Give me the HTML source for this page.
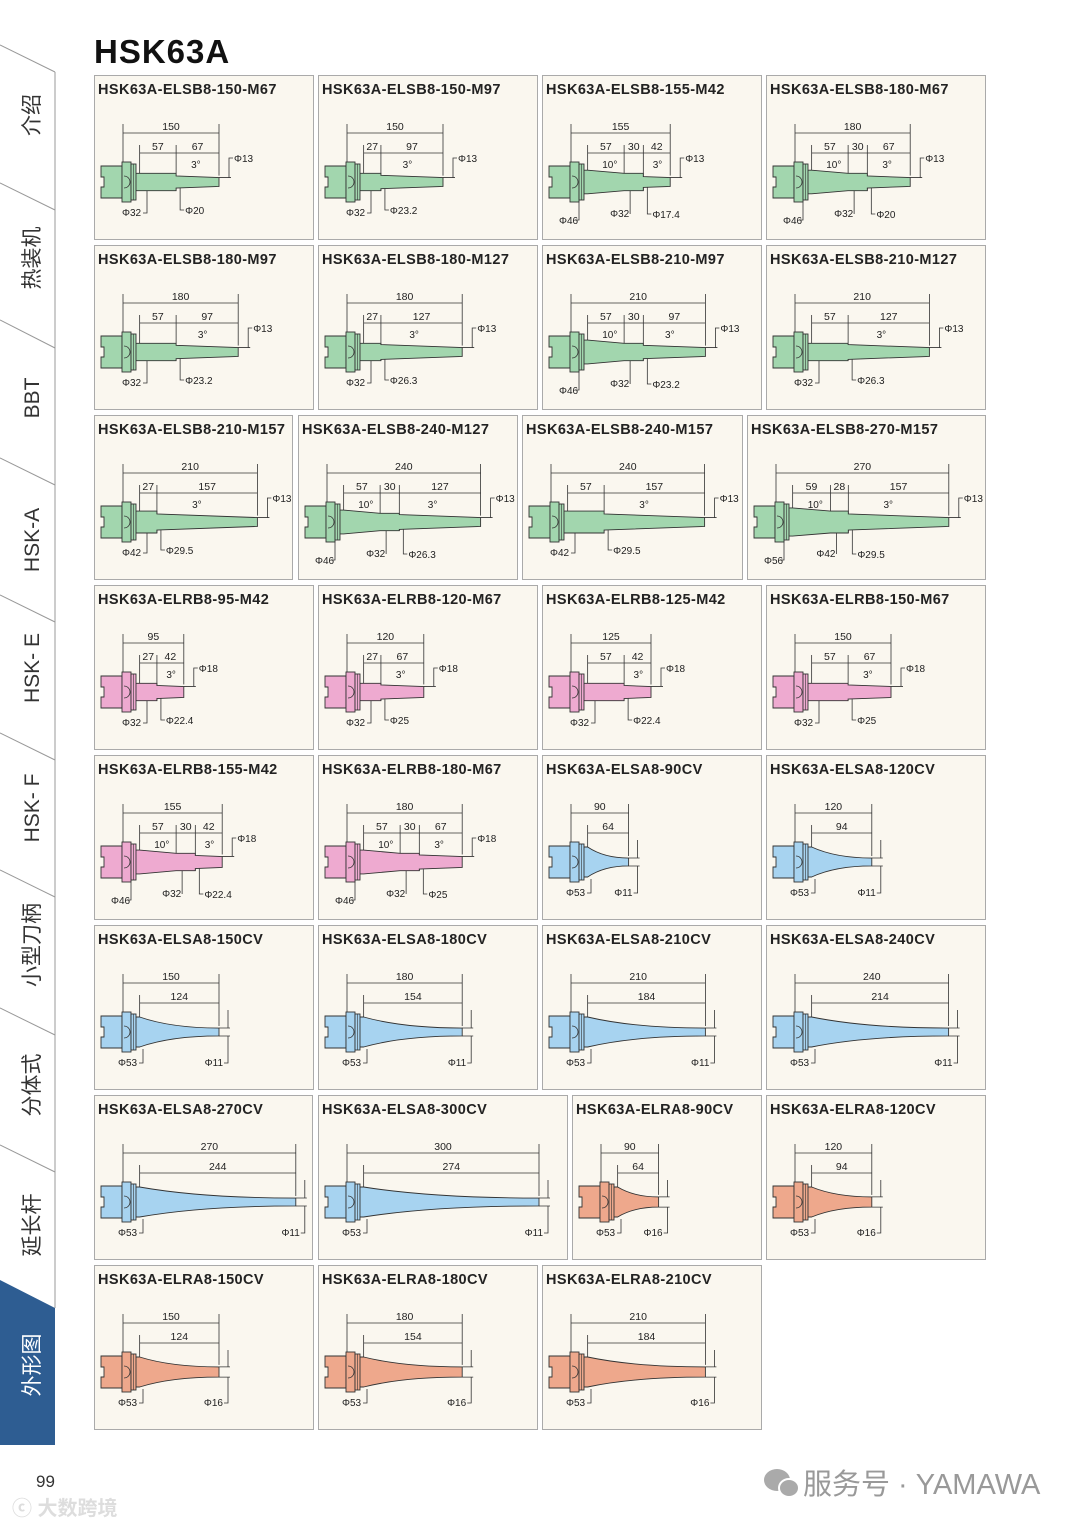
<!DOCTYPE html>
<html><head><meta charset="utf-8">
<style>
html,body{margin:0;padding:0;background:#fff;}
body{width:1080px;height:1527px;position:relative;overflow:hidden;font-family:"Liberation Sans","Noto Sans CJK SC",sans-serif;}
svg{position:absolute;left:0;top:0;}
</style></head>
<body>
<svg id="pg" width="1080" height="1527" viewBox="0 0 1080 1527" xmlns="http://www.w3.org/2000/svg">
  <g id="sidebar" stroke="#999" stroke-width="1" fill="none">
    <polygon points="0,1280 55,1308 55,1445 0,1445" fill="#2e5d92" stroke="none"/>
    <line x1="55" y1="72" x2="55" y2="1308"/>
    <line x1="0" y1="45" x2="55" y2="72"/><line x1="0" y1="183" x2="55" y2="210"/>
    <line x1="0" y1="320" x2="55" y2="348"/><line x1="0" y1="458" x2="55" y2="485"/>
    <line x1="0" y1="595" x2="55" y2="622"/><line x1="0" y1="733" x2="55" y2="760"/>
    <line x1="0" y1="870" x2="55" y2="897"/><line x1="0" y1="1008" x2="55" y2="1035"/>
    <line x1="0" y1="1145" x2="55" y2="1172"/>
  </g>
  <g id="tabs" font-size="21" fill="#333" text-anchor="middle" font-family="Liberation Sans, Noto Sans CJK SC, sans-serif"></g>
  <text x="94" y="63" font-size="33" font-weight="bold" fill="#111" letter-spacing="1">HSK63A</text>
  <g id="cards"></g>
  <text x="36" y="1487" font-size="17" fill="#333">99</text>
  <text x="12" y="1515" font-size="20" fill="#ddd" font-weight="bold">ⓒ 大数跨境</text>
  <g>
    <ellipse cx="777" cy="1480" rx="13" ry="11" fill="#aaa"/>
    <ellipse cx="789" cy="1488" rx="10" ry="9" fill="#aaa" stroke="#fff" stroke-width="2"/>
    <text x="803" y="1494" font-size="29" fill="#999">服务号 · YAMAWA</text>
  </g>
</svg>
<script>
const NS='http://www.w3.org/2000/svg';
const tabLabels=['介绍','热装机','BBT','HSK-A','HSK- E','HSK- F','小型刀柄','分体式','延长杆','外形图'];
const tabCenters=[115,258,398,540,668,808,945,1085,1225,1365];
const cardTitles=['HSK63A-ELSB8-150-M67','HSK63A-ELSB8-150-M97','HSK63A-ELSB8-155-M42','HSK63A-ELSB8-180-M67',
'HSK63A-ELSB8-180-M97','HSK63A-ELSB8-180-M127','HSK63A-ELSB8-210-M97','HSK63A-ELSB8-210-M127',
'HSK63A-ELSB8-210-M157','HSK63A-ELSB8-240-M127','HSK63A-ELSB8-240-M157','HSK63A-ELSB8-270-M157',
'HSK63A-ELRB8-95-M42','HSK63A-ELRB8-120-M67','HSK63A-ELRB8-125-M42','HSK63A-ELRB8-150-M67',
'HSK63A-ELRB8-155-M42','HSK63A-ELRB8-180-M67','HSK63A-ELSA8-90CV','HSK63A-ELSA8-120CV',
'HSK63A-ELSA8-150CV','HSK63A-ELSA8-180CV','HSK63A-ELSA8-210CV','HSK63A-ELSA8-240CV',
'HSK63A-ELSA8-270CV','HSK63A-ELSA8-300CV','HSK63A-ELRA8-90CV','HSK63A-ELRA8-120CV',
'HSK63A-ELRA8-150CV','HSK63A-ELRA8-180CV','HSK63A-ELRA8-210CV'];
const cardLengths=[150,150,155,180,180,180,210,210,210,240,240,270,95,120,125,150,155,180,90,120,150,180,210,240,270,300,90,120,150,180,210];
const cardSegments=[
[[57,32,32],[67,20,13]],[[27,32,32],[97,23.2,13]],[[57,46,32],[30,32,32],[42,17.4,13]],[[57,46,32],[30,32,32],[67,20,13]],
[[57,32,32],[97,23.2,13]],[[27,32,32],[127,26.3,13]],[[57,46,32],[30,32,32],[97,23.2,13]],[[57,32,32],[127,26.3,13]],
[[27,42,42],[157,29.5,13]],[[57,46,32],[30,32,32],[127,26.3,13]],[[57,42,42],[157,29.5,13]],[[59,56,42],[28,42,42],[157,29.5,13]],
[[27,32,32],[42,22.4,18]],[[27,32,32],[67,25,18]],[[57,32,32],[42,22.4,18]],[[57,32,32],[67,25,18]],
[[57,46,32],[30,32,32],[42,22.4,18]],[[57,46,32],[30,32,32],[67,25,18]],[[64,53,11]],[[94,53,11]],
[[124,53,11]],[[154,53,11]],[[184,53,11]],[[214,53,11]],
[[244,53,11]],[[274,53,11]],[[64,53,16]],[[94,53,16]],
[[124,53,16]],[[154,53,16]],[[184,53,16]]];
const cardColors=['g','g','g','g','g','g','g','g','g','g','g','g','p','p','p','p','p','p','b','b','b','b','b','b','b','b','o','o','o','o','o'];
const palette={g:'#a2d6ae',p:'#eeaad0',b:'#a7d3f0',o:'#eea88c'};
const rowTops=[75,245,415,585,755,925,1095,1265];
const std=[[94,219],[318,219],[542,219],[766,219]];
const rowLayouts=[std,std,[[94,198],[298,219],[522,220],[747,238]],std,std,std,[[94,218],[318,249],[572,189],[766,219]],[[94,219],[318,219],[542,219]]];

const S=0.64;
function hh(d){return (3+d*0.45)/2;}
function el(tag,attrs,parent,text){const e=document.createElementNS(NS,tag);for(const k in attrs)e.setAttribute(k,attrs[k]);if(text!==undefined)e.textContent=text;parent.appendChild(e);return e;}
function fmt(d){return 'Φ'+d;}

const tabs=document.getElementById('tabs');
tabLabels.forEach((t,i)=>{
  const tx=el('text',{x:0,y:0,transform:`translate(39,${tabCenters[i]}) rotate(-90)`,fill:i===9?'#fff':'#333'},tabs,t);
  
  
});

const cards=document.getElementById('cards');
let idx=0;
rowTops.forEach((ry,r)=>{
  rowLayouts[r].forEach(([cx,cw])=>{
    if(idx>=cardTitles.length)return;
    drawCard(idx,cx,ry,cw);idx++;
  });
});

function drawCard(i,x,y,w){
  const g=el('g',{},cards);
  
  
  el('rect',{x:x+0.5,y:y+0.5,width:w,height:164,fill:'#faf7ef',stroke:'#aaa','stroke-width':1},g);
  const tt=el('text',{x:x+4,y:y+19,'font-size':14.5,'font-weight':'bold',fill:'#222','letter-spacing':0.4},g,cardTitles[i]);
  
  
  const segs=cardSegments[i],L=cardLengths[i],col=palette[cardColors[i]];
  const cv=(cardColors[i]==='b'||cardColors[i]==='o');
  const x0=x+29,cy=y+107;
  const neck=L-segs.reduce((a,s)=>a+s[0],0);
  const xe=x0+L*S;
  const ln='#333';
  const dg=el('g',{stroke:ln,'stroke-width':0.8,fill:'none'},g);
  let xs=x0+neck*S;
  let top=[];
  let d='';
  if(!cv){
    let cx=x0+12;
    top.push([cx,cy-hh(segs[0][1])]);
    let px=xs;
    segs.forEach(s=>{
      top.push([px,cy-hh(s[1])]);
      px+=s[0]*S;
      top.push([px,cy-hh(s[2])]);
    });
    d='M'+top.map(p=>p[0].toFixed(1)+','+p[1].toFixed(1)).join(' L');
    d+=' L'+top.slice().reverse().map(p=>p[0].toFixed(1)+','+(2*cy-p[1]).toFixed(1)).join(' L')+' Z';
  } else {
    const h0=15,h1=hh(segs[0][2]);
    const cx=x0+12;
    const qx=xs+segs[0][0]*S*0.4;
    d=`M${cx},${cy-h0} L${xs},${cy-h0} Q${qx},${cy-h1} ${xe},${cy-h1} L${xe},${cy+h1} Q${qx},${cy+h1} ${xs},${cy+h0} L${cx},${cy+h0} Z`;
  }
  const body=el('path',{d:d,fill:col,stroke:ln,'stroke-width':0.9},g);
  
  
  if(!cv){let px=xs;segs.forEach((s,k)=>{if(k>0){el('line',{x1:px,y1:cy-hh(Math.max(s[1],segs[k-1][2])),x2:px,y2:cy+hh(Math.max(s[1],segs[k-1][2]))},dg);}px+=s[0]*S;});}
  const hk=el('path',{d:`M${x0-22},${cy-16} L${x0-1},${cy-16} L${x0-1},${cy+16} L${x0-22},${cy+16} L${x0-22},${cy+5} L${x0-19},${cy+5} L${x0-19},${cy-5} L${x0-22},${cy-5} Z`,fill:col,stroke:ln,'stroke-width':0.9},g);
  
  
  el('rect',{x:x0-1,y:cy-20,width:9,height:40,fill:col,stroke:ln,'stroke-width':0.9},g);
  el('rect',{x:x0+8,y:cy-18,width:5,height:36,fill:col,stroke:ln,'stroke-width':0.9},g);
  el('path',{d:`M${x0+1},${cy-6} A6,6 0 0,1 ${x0+1},${cy+6}`,fill:col,stroke:ln,'stroke-width':0.8},g);
  el('line',{x1:x0+10.5,y1:cy-18,x2:x0+10.5,y2:cy+18,stroke:ln,'stroke-width':0.6},g);
  const tg=el('g',{'font-size':10.5,fill:'#222','text-anchor':'middle'},g);
  const yd1=y+58,yd2=y+78;
  el('line',{x1:x0,y1:y+49,x2:x0,y2:cy-8},dg);
  el('line',{x1:xe,y1:y+49,x2:xe,y2:cy-hh(segs[segs.length-1][2])-2},dg);
  el('line',{x1:x0,y1:yd1,x2:xe,y2:yd1},dg);
  el('text',{x:(x0+xe)/2,y:yd1-3},tg,String(L));
  let px=xs;
  el('line',{x1:px,y1:y+70,x2:px,y2:cy-hh(segs[0][1])},dg);
  el('line',{x1:px,y1:yd2,x2:xe,y2:yd2},dg);
  segs.forEach((s,k)=>{
    const nx=px+s[0]*S;
    if(k<segs.length-1)el('line',{x1:nx,y1:y+70,x2:nx,y2:cy-hh(s[2])},dg);
    el('text',{x:(px+nx)/2,y:yd2-3},tg,String(s[0]));
    px=nx;
  });
  const lt=el('g',{'font-size':10,fill:'#222'},g);
  const endD=segs[segs.length-1][2];
  if(!cv){
    const hx=xe+10;
    el('path',{d:`M${xe},${cy-hh(endD)} L${hx+2},${cy-hh(endD)} M${hx},${cy-hh(endD)} L${hx},${y+83} L${hx+4},${y+83}`},dg);
    el('text',{x:hx+5,y:y+87},lt,fmt(endD));
    let ax=xs;
    segs.forEach(s=>{
      const nx=ax+s[0]*S;
      if(s[1]!==s[2]){
        const isCone=s[1]>s[2]&&s[1]-s[2]>12&&s[0]<70;
        const mx=isCone?ax+s[0]*S*0.4:ax+s[0]*S*0.35;
        el('text',{x:mx,y:y+93},lt,isCone?'10°':'3°');
      }
      ax=nx;
    });
    if(segs.length===3){
      el('text',{x:x0-12,y:y+149},lt,fmt(segs[0][1]));
      el('path',{d:`M${x0+4},${y+145} L${x0+8},${y+145} L${x0+8},${cy+18}`},dg);
      const c2=xs+segs[0][0]*S+6;
      el('text',{x:c2-20,y:y+142},lt,fmt(segs[1][1]));
      el('path',{d:`M${c2},${y+139} L${c2},${cy+hh(32)}`},dg);
      const c3=xs+(segs[0][0]+segs[1][0])*S+4;
      el('path',{d:`M${c3},${cy+hh(segs[2][1])} L${c3},${y+139} L${c3+4},${y+139}`},dg);
      el('text',{x:c3+5,y:y+143},lt,fmt(segs[2][1]));
    } else {
      el('text',{x:x0-1,y:y+141},lt,fmt(segs[0][1]));
      el('path',{d:`M${x0+20},${y+138} L${x0+24},${y+138} L${x0+24},${cy+hh(segs[0][1])}`},dg);
      const c3=xs+segs[0][0]*S+4;
      el('path',{d:`M${c3},${cy+hh(segs[1][1])} L${c3},${y+135} L${c3+4},${y+135}`},dg);
      el('text',{x:c3+5,y:y+139},lt,fmt(segs[1][1]));
    }
  } else {
    const hx=xe+9,h1=hh(endD);
    el('path',{d:`M${xe},${cy-h1} L${hx+2},${cy-h1} M${xe},${cy+h1} L${hx+2},${cy+h1} M${hx},${cy-22} L${hx},${cy-h1} M${hx},${cy+h1} L${hx},${y+138} L${hx-4},${y+138}`},dg);
    el('text',{x:hx-5,y:y+141,'text-anchor':'end'},lt,fmt(endD));
    el('text',{x:x0-5,y:y+141},lt,'Φ53');
    el('path',{d:`M${x0+16},${y+138} L${x0+20},${y+138} L${x0+20},${cy+17}`},dg);
  }
}
</script>
</body></html>
